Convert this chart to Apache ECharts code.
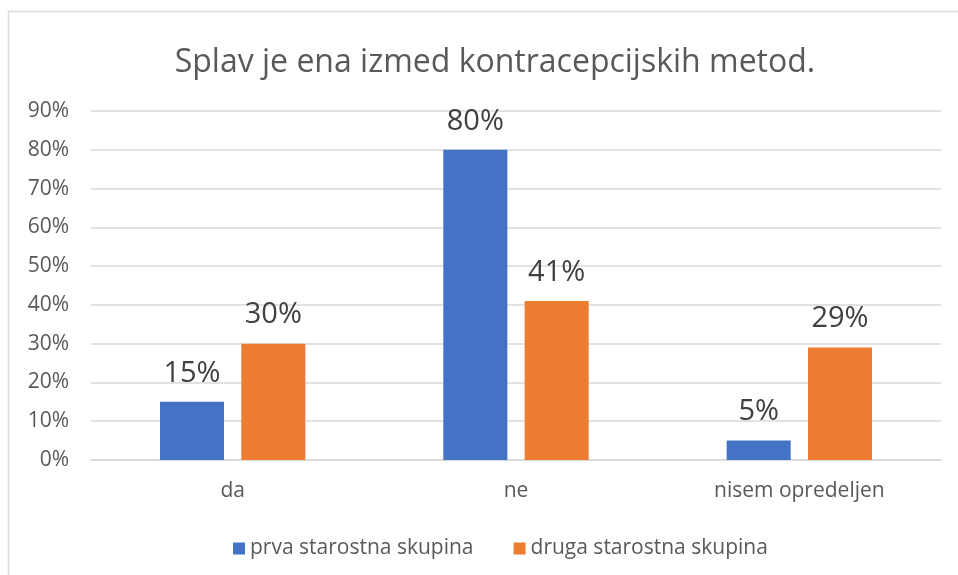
<!DOCTYPE html>
<html lang="sl">
<head>
    <meta charset="UTF-8">
    <title>Splav je ena izmed kontracepcijskih metod.</title>
    <script src="https://cdn.jsdelivr.net/npm/echarts@6/dist/echarts.min.js"></script>
    <style>
        body { margin: 0; background: #fff; }
        #main { width: 958px; height: 575px; }
    </style>
</head>
<body>
    <div id="main"></div>
    <script type="text/javascript">
        // podatki (v %)
        var categories = ['da', 'ne', 'nisem opredeljen'];
        var seriesNames = ['prva starostna skupina', 'druga starostna skupina'];
        var prva = [15, 80, 5];
        var druga = [30, 41, 29];
        var titleText = 'Splav je ena izmed kontracepcijskih metod.';

        var fontFam = '"Open Sans", sans-serif';
        var myChart = echarts.init(document.getElementById('main'));

        var option = {
            animation: false,
            textStyle: { fontFamily: fontFam },
            graphic: [{
                type: 'rect',
                shape: { x: 8.5, y: 11.5, width: 1000, height: 700 },
                style: { fill: 'none', stroke: '#d9d9d9', lineWidth: 1.5 },
                silent: true
            }],
            title: {
                text: titleText,
                left: 490,
                top: 42,
                textAlign: 'center',
                textStyle: { fontSize: 32, fontWeight: 'normal', color: '#595959', fontFamily: fontFam }
            },
            legend: {
                data: seriesNames,
                left: 228,
                top: 533,
                itemWidth: 12,
                itemHeight: 12,
                itemGap: 40,
                icon: 'rect',
                textStyle: { fontSize: 21, color: '#595959', fontFamily: fontFam }
            },
            grid: { left: 91, right: 17, top: 111, bottom: 115 },
            xAxis: {
                type: 'category',
                data: categories,
                axisTick: { show: false },
                axisLine: { lineStyle: { color: '#d9d9d9', width: 1.5 } },
                axisLabel: { fontSize: 21, color: '#595959', margin: 21, fontFamily: fontFam }
            },
            yAxis: {
                type: 'value',
                min: 0,
                max: 90,
                interval: 10,
                axisLine: { show: false },
                axisTick: { show: false },
                axisLabel: { formatter: '{value}%', fontSize: 21, color: '#595959', margin: 22, fontFamily: fontFam },
                splitLine: { lineStyle: { color: '#d9d9d9', width: 1.5 } }
            },
            series: [{
                name: seriesNames[0],
                type: 'bar',
                data: prva,
                barWidth: '22.6%',
                barGap: '27%',
                itemStyle: { color: '#4472c4' },
                label: { show: true, position: 'top', distance: 14, formatter: '{c}%', fontSize: 29, color: '#404040', fontFamily: fontFam }
            }, {
                name: seriesNames[1],
                type: 'bar',
                data: druga,
                barWidth: '22.6%',
                barGap: '27%',
                itemStyle: { color: '#ed7d31' },
                label: { show: true, position: 'top', distance: 14, formatter: '{c}%', fontSize: 29, color: '#404040', fontFamily: fontFam }
            }]
        };

        myChart.setOption(option);
    </script>
</body>
</html>
